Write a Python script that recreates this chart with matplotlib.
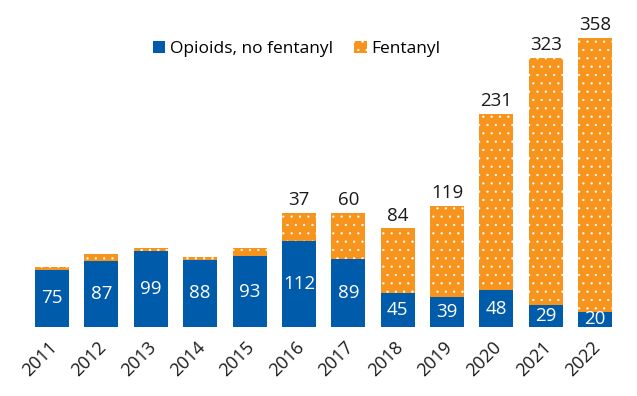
import matplotlib.pyplot as plt
from matplotlib.transforms import ScaledTranslation

plt.rcParams["font.family"] = ["Open Sans", "DejaVu Sans"]
plt.rcParams["hatch.linewidth"] = 0.4

YEARS = ["2011", "2012", "2013", "2014", "2015", "2016",
         "2017", "2018", "2019", "2020", "2021", "2022"]
NO_FENTANYL = [75, 87, 99, 88, 93, 112, 89, 45, 39, 48, 29, 20]
FENTANYL = [4, 9, 4, 4, 10, 37, 60, 84, 119, 231, 323, 358]
# fentanyl counts are only printed from 2016 on
FENTANYL_LABEL_FROM = 5

BLUE = "#005BAA"
ORANGE = "#F7941D"


def main() -> None:
    fig = plt.figure(figsize=(6.37, 3.96), dpi=100)
    ax = fig.add_axes([0.043, 0.174, 0.93, 0.773])

    x = range(len(YEARS))
    ax.bar(x, NO_FENTANYL, width=0.69, color=BLUE, linewidth=0,
           label="Opioids, no fentanyl")
    ax.bar(x, FENTANYL, width=0.69, bottom=NO_FENTANYL, color=ORANGE,
           edgecolor="white", linewidth=0, hatch="..", label="Fentanyl")

    for i, (low, top) in enumerate(zip(NO_FENTANYL, FENTANYL)):
        ax.text(i, low / 2, str(low), ha="center", va="center",
                color="white", fontsize=13.5)
        if i >= FENTANYL_LABEL_FROM:
            ax.text(i, low + top + 5, str(top), ha="center", va="bottom",
                    color="#1a1a1a", fontsize=13.5)

    ax.set_xlim(-0.5, len(YEARS) - 0.5)
    ax.set_ylim(0, 400)
    ax.set_xticks(list(x))
    ax.set_xticklabels(YEARS, rotation=45, ha="right", rotation_mode="anchor",
                       fontsize=13, color="#1a1a1a")
    ax.tick_params(axis="x", length=0, pad=8)
    shift = ScaledTranslation(-4 / 100, 0, fig.dpi_scale_trans)
    for label in ax.get_xticklabels():
        label.set_transform(label.get_transform() + shift)
    ax.set_yticks([])
    for spine in ax.spines.values():
        spine.set_visible(False)

    ax.legend(loc="upper center", bbox_to_anchor=(0.455, 0.985), ncol=2,
              frameon=False, fontsize=12.5, handlelength=0.7,
              handleheight=0.7, handletextpad=0.3, columnspacing=1.2)

    fig.savefig("out.png", dpi=100)
    plt.close(fig)


if __name__ == "__main__":
    main()
